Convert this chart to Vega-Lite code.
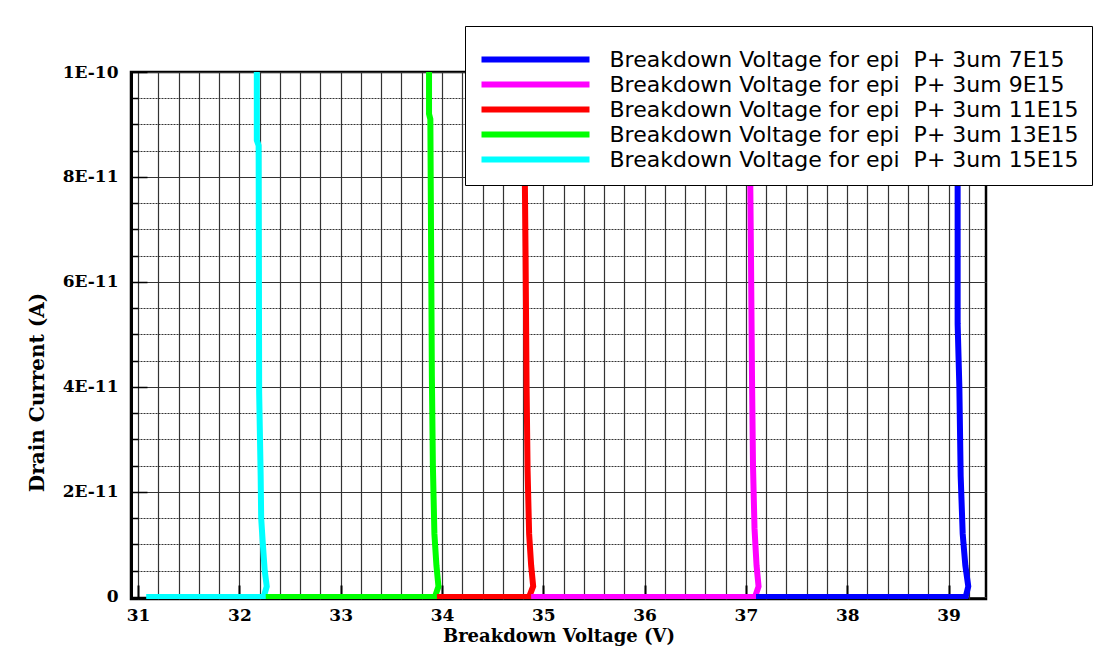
{
  "$schema": "https://vega.github.io/schema/vega-lite/v6.json",
  "width": 855,
  "height": 527,
  "autosize": "none",
  "padding": {"left": 131, "top": 72, "right": 116, "bottom": 65},
  "background": "white",
  "config": {
    "view": {"stroke": "black", "strokeWidth": 2.5},
    "axis": {"labelColor": "black", "titleColor": "black", "labelFont": "DejaVu Serif", "titleFont": "DejaVu Serif", "labelFontSize": 17, "titleFontSize": 18, "labelFontWeight": "bold", "titleFontWeight": "bold"}
  },
  "data": {"values": [
    {"s": "15E15", "i": 1, "x": 31.08, "y": 0},
    {"s": "15E15", "i": 2, "x": 32.24, "y": 0},
    {"s": "15E15", "i": 3, "x": 32.27, "y": 0.2e-11},
    {"s": "15E15", "i": 4, "x": 32.25, "y": 0.5e-11},
    {"s": "15E15", "i": 5, "x": 32.23, "y": 1.05e-11},
    {"s": "15E15", "i": 6, "x": 32.215, "y": 1.5e-11},
    {"s": "15E15", "i": 7, "x": 32.21, "y": 2.3e-11},
    {"s": "15E15", "i": 8, "x": 32.195, "y": 3.9e-11},
    {"s": "15E15", "i": 9, "x": 32.19, "y": 8.6e-11},
    {"s": "15E15", "i": 10, "x": 32.172, "y": 8.7e-11},
    {"s": "15E15", "i": 11, "x": 32.172, "y": 1e-10},
    {"s": "13E15", "i": 1, "x": 32.26, "y": 0},
    {"s": "13E15", "i": 2, "x": 33.93, "y": 0},
    {"s": "13E15", "i": 3, "x": 33.965, "y": 0.2e-11},
    {"s": "13E15", "i": 4, "x": 33.945, "y": 0.6e-11},
    {"s": "13E15", "i": 5, "x": 33.925, "y": 1.2e-11},
    {"s": "13E15", "i": 6, "x": 33.91, "y": 2.5e-11},
    {"s": "13E15", "i": 7, "x": 33.9, "y": 4.2e-11},
    {"s": "13E15", "i": 8, "x": 33.89, "y": 7.5e-11},
    {"s": "13E15", "i": 9, "x": 33.885, "y": 9.1e-11},
    {"s": "13E15", "i": 10, "x": 33.872, "y": 9.2e-11},
    {"s": "13E15", "i": 11, "x": 33.872, "y": 1e-10},
    {"s": "11E15", "i": 1, "x": 33.95, "y": 0},
    {"s": "11E15", "i": 2, "x": 34.86, "y": 0},
    {"s": "11E15", "i": 3, "x": 34.9, "y": 0.2e-11},
    {"s": "11E15", "i": 4, "x": 34.88, "y": 0.6e-11},
    {"s": "11E15", "i": 5, "x": 34.86, "y": 1.2e-11},
    {"s": "11E15", "i": 6, "x": 34.845, "y": 2.4e-11},
    {"s": "11E15", "i": 7, "x": 34.835, "y": 4.0e-11},
    {"s": "11E15", "i": 8, "x": 34.825, "y": 6.5e-11},
    {"s": "11E15", "i": 9, "x": 34.815, "y": 8.5e-11},
    {"s": "11E15", "i": 10, "x": 34.805, "y": 1e-10},
    {"s": "9E15", "i": 1, "x": 34.88, "y": 0},
    {"s": "9E15", "i": 2, "x": 37.09, "y": 0},
    {"s": "9E15", "i": 3, "x": 37.125, "y": 0.2e-11},
    {"s": "9E15", "i": 4, "x": 37.105, "y": 0.6e-11},
    {"s": "9E15", "i": 5, "x": 37.085, "y": 1.3e-11},
    {"s": "9E15", "i": 6, "x": 37.07, "y": 2.5e-11},
    {"s": "9E15", "i": 7, "x": 37.06, "y": 4.2e-11},
    {"s": "9E15", "i": 8, "x": 37.05, "y": 6.5e-11},
    {"s": "9E15", "i": 9, "x": 37.04, "y": 8.5e-11},
    {"s": "9E15", "i": 10, "x": 37.03, "y": 1e-10},
    {"s": "7E15", "i": 1, "x": 37.1, "y": 0},
    {"s": "7E15", "i": 2, "x": 39.17, "y": 0},
    {"s": "7E15", "i": 3, "x": 39.195, "y": 0.2e-11},
    {"s": "7E15", "i": 4, "x": 39.166, "y": 0.6e-11},
    {"s": "7E15", "i": 5, "x": 39.14, "y": 1.2e-11},
    {"s": "7E15", "i": 6, "x": 39.12, "y": 2.3e-11},
    {"s": "7E15", "i": 7, "x": 39.107, "y": 4.0e-11},
    {"s": "7E15", "i": 8, "x": 39.09, "y": 5.2e-11},
    {"s": "7E15", "i": 9, "x": 39.09, "y": 1e-10}
  ]},
  "mark": {"type": "line", "strokeWidth": 6, "clip": true},
  "encoding": {
    "x": {
      "field": "x", "type": "quantitative",
      "scale": {"domain": [30.93, 39.37], "nice": false, "zero": false},
      "axis": {
        "title": "Breakdown Voltage (V)",
        "values": [31, 31.2, 31.4, 31.6, 31.8, 32, 32.2, 32.4, 32.6, 32.8, 33, 33.2, 33.4, 33.6, 33.8, 34, 34.2, 34.4, 34.6, 34.8, 35, 35.2, 35.4, 35.6, 35.8, 36, 36.2, 36.4, 36.6, 36.8, 37, 37.2, 37.4, 37.6, 37.8, 38, 38.2, 38.4, 38.6, 38.8, 39, 39.2],
        "labelExpr": "abs(datum.value - round(datum.value)) < 0.001 ? format(round(datum.value), 'd') : ''",
        "grid": true, "gridColor": "#333333", "gridWidth": 1.2, "gridOpacity": 1,
        "domain": false,
        "ticks": true, "tickColor": "black", "tickWidth": 2, "tickSize": -14,
        "tickOpacity": {"condition": {"test": "abs(datum.value - round(datum.value)) < 0.001", "value": 1}, "value": 0},
        "labelPadding": 22, "labelFlush": false, "labelOverlap": false,
        "titleY": 37, "titleBaseline": "middle"
      }
    },
    "y": {
      "field": "y", "type": "quantitative",
      "scale": {"domain": [-4e-13, 1e-10], "nice": false, "zero": false},
      "axis": {
        "title": "Drain Current (A)",
        "titleFontSize": 20,
        "values": [0, 0.5e-11, 1e-11, 1.5e-11, 2e-11, 2.5e-11, 3e-11, 3.5e-11, 4e-11, 4.5e-11, 5e-11, 5.5e-11, 6e-11, 6.5e-11, 7e-11, 7.5e-11, 8e-11, 8.5e-11, 9e-11, 9.5e-11, 1e-10],
        "labelExpr": "abs(datum.value / 2e-11 - round(datum.value / 2e-11)) < 0.01 ? (datum.value == 0 ? '0' : upper(format(datum.value, '.0e'))) : ''",
        "grid": true, "gridColor": "#333333", "gridWidth": 1, "gridOpacity": 1,
        "gridDash": {"condition": {"test": "abs(datum.value / 2e-11 - round(datum.value / 2e-11)) < 0.01", "value": []}, "value": [2, 1]},
        "domain": true, "domainColor": "black", "domainWidth": 3,
        "ticks": true, "tickColor": "black", "tickWidth": 1.5,
        "tickSize": {"condition": {"test": "abs(datum.value / 2e-11 - round(datum.value / 2e-11)) < 0.01", "value": -16}, "value": -7},
        "labelPadding": 29, "labelOverlap": false, "labelFlush": false,
        "titleX": -94, "titleY": 320, "titleBaseline": "middle", "titleAngle": -90
      }
    },
    "color": {
      "field": "s", "type": "nominal",
      "scale": {"domain": ["7E15", "9E15", "11E15", "13E15", "15E15"], "range": ["#0000ff", "#ff00ff", "#ff0000", "#00ff00", "#00ffff"]},
      "legend": {
        "title": " ", "titleFontSize": 8, "titlePadding": 0,
        "orient": "none", "legendX": 334, "legendY": -46,
        "labelExpr": "'Breakdown Voltage for epi\u00a0 P+ 3um ' + datum.label",
        "fillColor": "white", "strokeColor": "black",
        "padding": 13, "symbolType": "stroke", "symbolSize": 11664, "symbolStrokeWidth": 6,
        "symbolOffset": 0.5, "clipHeight": 25, "rowPadding": 0,
        "labelFont": "DejaVu Sans", "labelFontSize": 22, "labelColor": "black", "labelOffset": 17, "labelLimit": 0,
        "encoding": {"legend": {"update": {"strokeWidth": {"value": 1.5}}}}
      }
    },
    "order": {"field": "i", "type": "quantitative"}
  }
}
